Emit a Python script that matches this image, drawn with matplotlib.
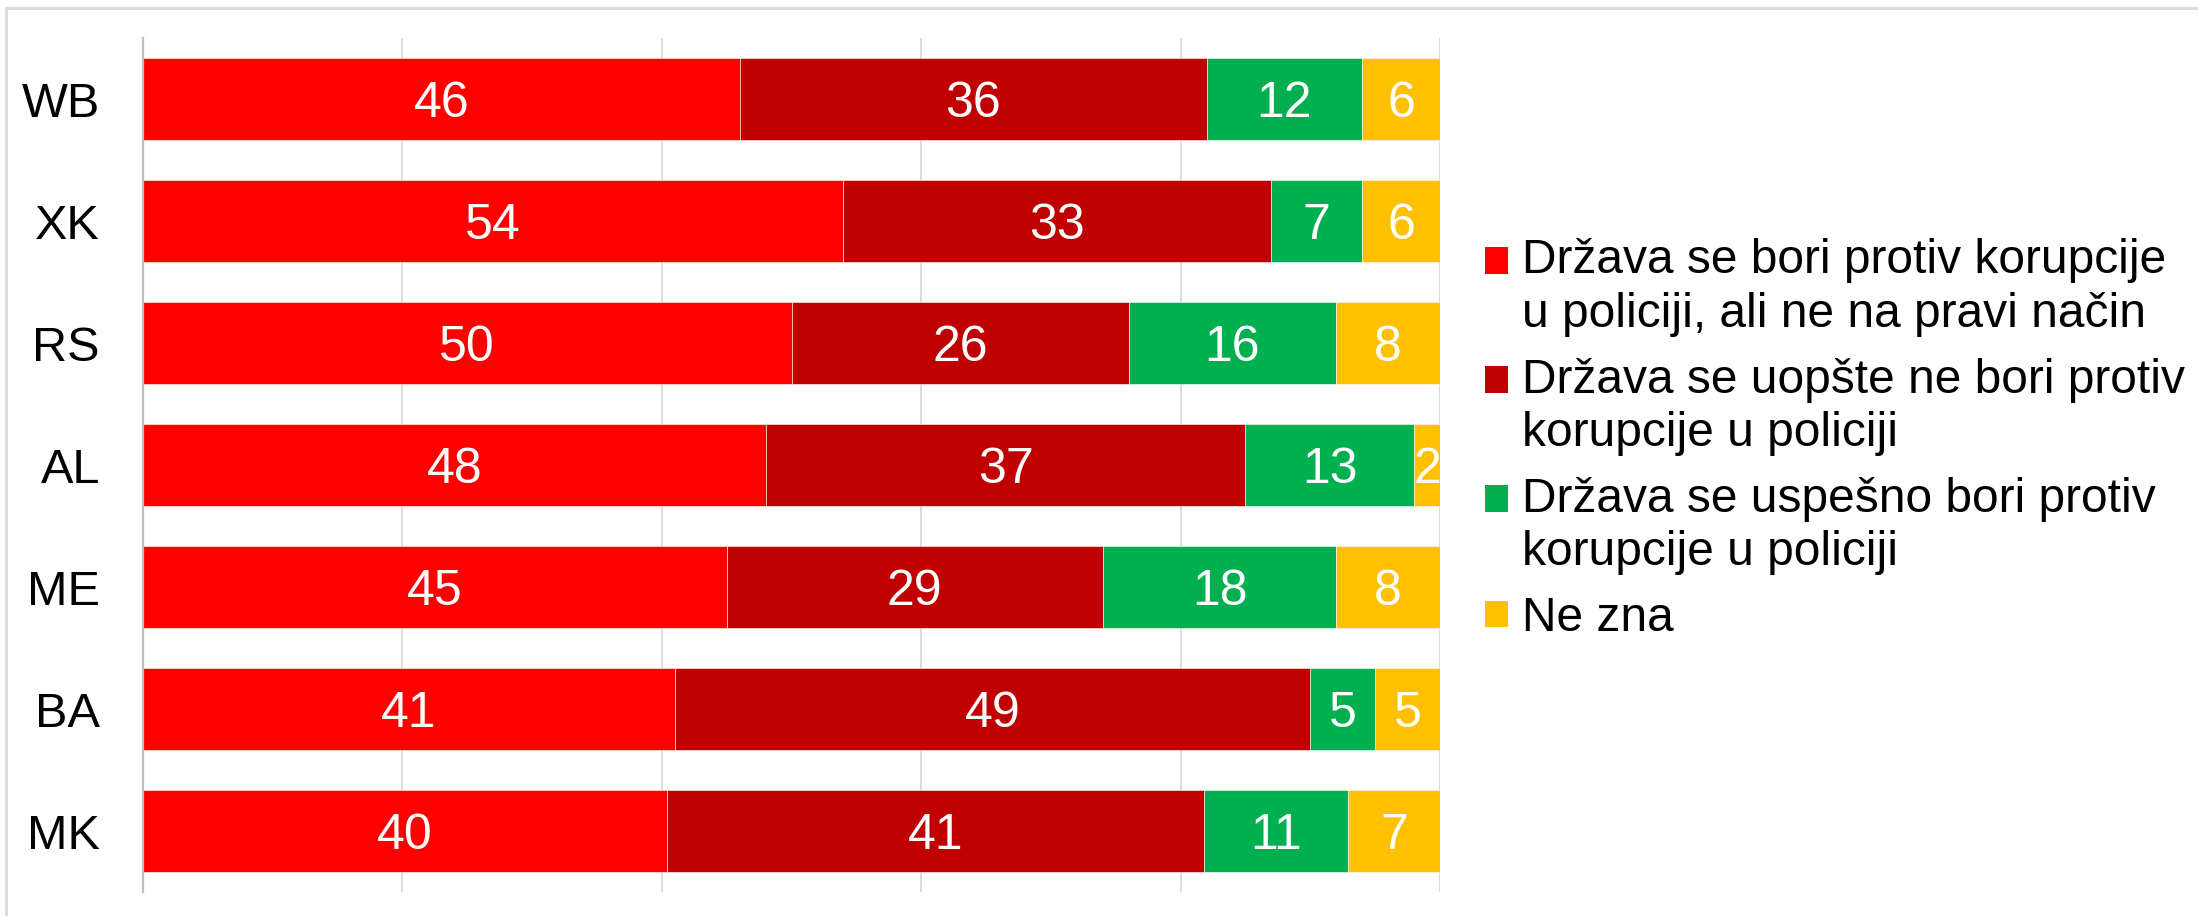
import numpy as np
import matplotlib
matplotlib.use("Agg")
import matplotlib.pyplot as plt
from matplotlib.patches import Patch, Rectangle
from matplotlib.legend_handler import HandlerPatch
from matplotlib.lines import Line2D

plt.rcParams['font.family'] = ['Liberation Sans', 'DejaVu Sans']

countries = ['WB', 'XK', 'RS', 'AL', 'ME', 'BA', 'MK']
fights_wrong_way = [46, 54, 50, 48, 45, 41, 40]
not_fighting = [36, 33, 26, 37, 29, 49, 41]
fights_successfully = [12, 7, 16, 13, 18, 5, 11]
dont_know = [6, 6, 8, 2, 8, 5, 7]

labels = ['Država se bori protiv korupcije\nu policiji, ali ne na pravi način',
          'Država se uopšte ne bori protiv\nkorupcije u policiji',
          'Država se uspešno bori protiv\nkorupcije u policiji',
          'Ne zna']
colors = ['#FF0000', '#C00000', '#00B050', '#FFC000']


class ShiftedSquare(HandlerPatch):
    # square aligned with the first line of a two-line label
    def __init__(self, shift):
        super().__init__()
        self.shift = shift

    def create_artists(self, legend, orig_handle, xdescent, ydescent,
                       width, height, fontsize, trans):
        r = Rectangle((-xdescent, -ydescent + self.shift * fontsize), width, height,
                      facecolor=orig_handle.get_facecolor(), edgecolor='none',
                      transform=trans)
        return [r]


series = np.array([fights_wrong_way, not_fighting, fights_successfully, dont_know], dtype=float)
shares = series / series.sum(axis=0) * 100

fig = plt.figure(figsize=(21.98, 9.16), dpi=100)
ax = fig.add_axes([143 / 2198, 24 / 916, (1440 - 143) / 2198, (892 - 38) / 916])

y = np.arange(len(countries))
left = np.zeros(len(countries))
for i in range(len(series)):
    ax.barh(y, shares[i], left=left, height=0.665, color=colors[i],
            edgecolor='white', linewidth=0.4, zorder=2)
    for j in range(len(countries)):
        ax.text(left[j] + shares[i][j] / 2, y[j], str(int(series[i][j])),
                ha='center', va='center_baseline', color='white', fontsize=36, zorder=3)
    left += shares[i]

ax.set_xlim(0, 100)
ax.set_ylim(6.5, -0.5)
ax.set_xticks(np.arange(0, 101, 20))
ax.set_xticklabels([])
ax.tick_params(axis='x', length=0)
ax.grid(axis='x', color='#d9d9d9', linewidth=1.3, zorder=0)
ax.set_yticks(y)
ax.set_yticklabels(countries, fontsize=35, va='center_baseline')
ax.tick_params(axis='y', length=0, pad=31)
for s in ['top', 'right', 'bottom']:
    ax.spines[s].set_visible(False)
ax.spines['left'].set_color('#bfbfbf')
ax.spines['left'].set_linewidth(1.6)

handles = [Patch(facecolor=c) for c in colors]
hmap = {handles[0]: ShiftedSquare(0.58), handles[1]: ShiftedSquare(0.58),
        handles[2]: ShiftedSquare(0.58), handles[3]: ShiftedSquare(0.0)}
leg = fig.legend(handles, labels, handler_map=hmap, loc='center left',
                 bbox_to_anchor=(1485 / 2198, 0.52), frameon=False, fontsize=34.5,
                 handlelength=0.48, handleheight=0.48, handletextpad=0.3,
                 labelspacing=0.44, borderpad=0, borderaxespad=0)
for t in leg.get_texts():
    t.set_linespacing(1.23)

# light frame on top and left like the original slide
fig.add_artist(Line2D([6 / 2198, 1], [1 - 8 / 916, 1 - 8 / 916], color='#d9d9d9', linewidth=2))
fig.add_artist(Line2D([6 / 2198, 6 / 2198], [0, 1 - 8 / 916], color='#d9d9d9', linewidth=2))

fig.savefig('out.png', dpi=100)
